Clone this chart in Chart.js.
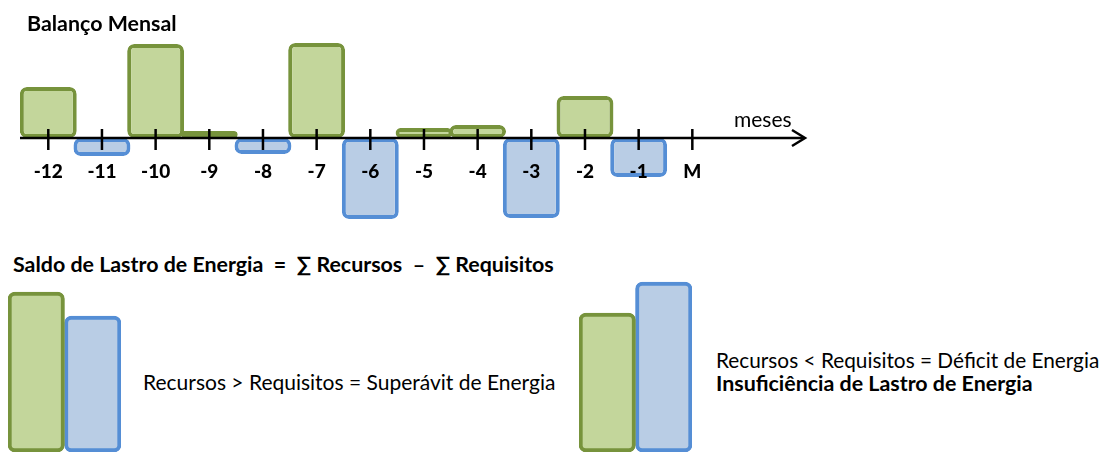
<!DOCTYPE html>
<html lang="pt">
<head>
<meta charset="utf-8">
<title>Balanço Mensal</title>
<script src="https://cdn.jsdelivr.net/npm/chart.js@4.4.1/dist/chart.umd.min.js"></script>
<style>
  html, body { margin: 0; padding: 0; background: #fff; }
  body { width: 1103px; height: 453px; position: relative; overflow: hidden; font-family: Lato, "Open Sans", sans-serif; color: #000; }
  .box { position: absolute; }
  .txt { position: absolute; white-space: nowrap; font-size: 21px; line-height: 24px; }
  .bold { font-weight: 700; font-size: 21.4px; }
</style>
</head>
<body>
  <div class="box" style="left:0; top:0; width:830px; height:240px"><canvas id="monthly"></canvas></div>
  <div class="box" style="left:8px; top:280px; width:113px; height:173px"><canvas id="surplus"></canvas></div>
  <div class="box" style="left:579px; top:280px; width:113px; height:173px"><canvas id="deficit"></canvas></div>

  <div class="txt bold" style="left:27px; top:11px">Balanço Mensal</div>
  <div class="txt" style="left:734px; top:107px">meses</div>
  <div class="txt bold" style="left:13px; top:252px">Saldo de Lastro de Energia&nbsp; = &nbsp;∑ Recursos &nbsp;–&nbsp; ∑ Requisitos</div>
  <div class="txt" style="left:143px; top:370px">Recursos &gt; Requisitos = Superávit de Energia</div>
  <div class="txt" style="left:716px; top:348px; font-size:20.8px">Recursos &lt; Requisitos = Déficit de Energia</div>
  <div class="txt bold" style="left:716px; top:371px">Insuficiência de Lastro de Energia</div>

<script>
// meses antes do mês de referência M (M = 0)
const months = [-12, -11, -10, -9, -8, -7, -6, -5, -4, -3, -2, -1];
const tickValues = [-12, -11, -10, -9, -8, -7, -6, -5, -4, -3, -2, -1, 0];
const tickLabels = ["-12", "-11", "-10", "-9", "-8", "-7", "-6", "-5", "-4", "-3", "-2", "-1", "M"];
// saldo mensal (recursos - requisitos), unidades arbitrárias
const balance = [51, -18, 94, 7, -16, 95, -81, 10, 13, -80, 42, -39];

// exemplos de baixo: superávit e déficit
const recursos = [160, 139];
const requisitos = [136, 170];

const GREEN_FILL = "#c3d69b", GREEN_LINE = "#77933c";
const BLUE_FILL = "#b9cde5", BLUE_LINE = "#558ed5";

Chart.defaults.font.family = "Lato";

const axisArrow = {
  id: "axisArrow",
  afterDatasetsDraw(chart) {
    const { ctx, chartArea, scales: { x, y } } = chart;
    const y0 = y.getPixelForValue(0);
    const tip = chartArea.right - 1;
    ctx.save();
    ctx.strokeStyle = "#000";
    ctx.lineWidth = 2.5;
    ctx.beginPath();
    ctx.moveTo(chartArea.left, y0);
    ctx.lineTo(tip - 1, y0);
    ctx.stroke();

    ctx.lineJoin = "miter";
    ctx.beginPath();
    ctx.moveTo(tip - 13, y0 - 8);
    ctx.lineTo(tip, y0);
    ctx.lineTo(tip - 13, y0 + 8);
    ctx.stroke();

    x.ticks.forEach(t => {
      const px = x.getPixelForValue(t.value);
      ctx.beginPath();
      ctx.moveTo(px, y0 - 9);
      ctx.lineTo(px, y0 + 12);
      ctx.stroke();
    });
    ctx.restore();
  }
};

new Chart(document.getElementById("monthly"), {
  type: "bar",
  data: {
    datasets: [{
      label: "Balanço Mensal",
      data: months.map((m, i) => ({ x: m, y: balance[i] })),
      backgroundColor: balance.map(v => v >= 0 ? GREEN_FILL : BLUE_FILL),
      borderColor: balance.map(v => v >= 0 ? GREEN_LINE : BLUE_LINE),
      borderWidth: 4,
      borderRadius: 7,
      borderSkipped: false,
      barPercentage: 1.06,
      categoryPercentage: 1
    }]
  },
  options: {
    animation: false,
    responsive: true,
    maintainAspectRatio: false,
    layout: { padding: { left: 20, right: 24, top: 30, bottom: 0 } },
    plugins: { legend: { display: false }, tooltip: { enabled: false } },
    scales: {
      x: {
        type: "linear",
        position: { y: 0 },
        min: -12.527,
        max: 2.118,
        offset: false,
        grid: { display: false, drawTicks: false },
        border: { display: false },
        afterBuildTicks: s => { s.ticks = tickValues.map(v => ({ value: v })); },
        ticks: {
          z: 1,
          autoSkip: false,
          maxRotation: 0,
          padding: 22,
          color: "#000",
          font: { size: 19, weight: 900 },
          callback: v => tickLabels[tickValues.indexOf(v)]
        }
      },
      y: { display: false, min: -102, max: 108 }
    }
  },
  plugins: [axisArrow]
});

function pairChart(id, i) {
  return new Chart(document.getElementById(id), {
    type: "bar",
    data: {
      labels: [""],
      datasets: [
        { label: "Recursos", data: [recursos[i]], backgroundColor: GREEN_FILL, borderColor: GREEN_LINE },
        { label: "Requisitos", data: [requisitos[i]], backgroundColor: BLUE_FILL, borderColor: BLUE_LINE }
      ]
    },
    options: {
      animation: false,
      responsive: true,
      maintainAspectRatio: false,
      layout: { padding: { bottom: 1 } },
      datasets: { bar: { borderWidth: 4, borderRadius: 7, borderSkipped: false, categoryPercentage: 1, barPercentage: 1 } },
      plugins: { legend: { display: false }, tooltip: { enabled: false } },
      scales: {
        x: { display: false },
        y: { display: false, min: 0, max: 172 }
      }
    }
  });
}

pairChart("surplus", 0);
pairChart("deficit", 1);
</script>
</body>
</html>
